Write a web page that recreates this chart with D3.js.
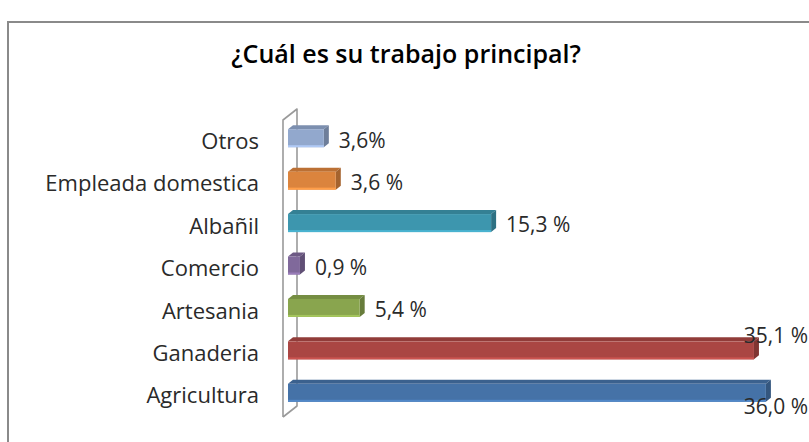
<!DOCTYPE html>
<html>
<head>
<meta charset="utf-8">
<script src="https://cdn.jsdelivr.net/npm/d3@7"></script>
<style>
  body { margin: 0; background: #fff; }
  svg { display: block; }
</style>
</head>
<body>
<div id="chart"></div>
<script>
const categories = ["Otros", "Empleada domestica", "Albañil", "Comercio", "Artesania", "Ganaderia", "Agricultura"];
const values = [2.7, 3.6, 15.3, 0.9, 5.4, 35.1, 36.0];
const valueLabels = ["3,6%", "3,6 %", "15,3 %", "0,9 %", "5,4 %", "35,1 %", "36,0 %"];
const colors = ["#92A8CD", "#DB843D", "#3D96AE", "#80699B", "#89A54E", "#AA4643", "#4572A7"];

const width = 809, height = 442;
const font = "'Open Sans', Lato, sans-serif";

const svg = d3.select("#chart")
    .append("svg")
    .attr("width", width)
    .attr("height", height);

// chart frame (cut off at right and bottom)
svg.append("path")
    .attr("d", `M8,${height + 5} L8,22 L${width + 5},22`)
    .attr("fill", "none")
    .attr("stroke", "#8a8a8a")
    .attr("stroke-width", 2);

svg.append("text")
    .attr("x", 406)
    .attr("y", 63)
    .attr("text-anchor", "middle")
    .attr("font-family", font)
    .attr("font-weight", 600)
    .attr("font-size", 25)
    .attr("fill", "#000")
    .text("¿Cuál es su trabajo principal?");

const y = d3.scaleBand()
    .domain(categories)
    .range([120, 417]);

const x = d3.scaleLinear()
    .domain([0, 40])
    .range([288, 819]);

// 3D depth offsets
const wallDx = 14, wallDy = 11;
const barDx = 5, barDy = 4, barH = 18;

// side wall of the category axis
const wallTop = y.range()[0], wallBottom = y.range()[1], wallX = 283;
svg.append("path")
    .attr("d", `M${wallX},${wallBottom} L${wallX},${wallTop} L${wallX + wallDx},${wallTop - wallDy} L${wallX + wallDx},${wallBottom - wallDy} L${wallX},${wallBottom}`)
    .attr("fill", "none")
    .attr("stroke", "#9a9a9a")
    .attr("stroke-width", 1.6)
    .attr("stroke-linejoin", "round");

const data = categories.map((c, i) => ({ cat: c, v: values[i], label: valueLabels[i], color: colors[i] }));

const bars = svg.selectAll("g.bar")
    .data(data)
    .enter()
    .append("g")
    .attr("class", "bar");

const barTop = d => y(d.cat) + y.bandwidth() / 2 - 12;

// top face
bars.append("path")
    .attr("d", d => {
        const x0 = x(0), x1 = x(d.v), t = barTop(d);
        return `M${x0},${t} L${x1},${t} L${x1 + barDx},${t - barDy} L${x0 + barDx},${t - barDy} Z`;
    })
    .attr("fill", d => d3.color(d.color).darker(0.45));

// side face
bars.append("path")
    .attr("d", d => {
        const x1 = x(d.v), t = barTop(d);
        return `M${x1},${t} L${x1 + barDx},${t - barDy} L${x1 + barDx},${t - barDy + barH} L${x1},${t + barH} Z`;
    })
    .attr("fill", d => d3.color(d.color).darker(0.8));

// front face
bars.append("rect")
    .attr("x", x(0))
    .attr("y", d => barTop(d))
    .attr("width", d => x(d.v) - x(0))
    .attr("height", barH)
    .attr("fill", d => d.color);

bars.append("rect")
    .attr("x", x(0))
    .attr("y", d => barTop(d) + barH - 2)
    .attr("width", d => x(d.v) - x(0))
    .attr("height", 2)
    .attr("fill", d => d3.color(d.color).brighter(0.5));

// category labels
svg.selectAll("text.cat")
    .data(categories)
    .enter()
    .append("text")
    .attr("class", "cat")
    .attr("x", 259)
    .attr("y", d => y(d) + y.bandwidth() / 2)
    .attr("dy", "0.35em")
    .attr("text-anchor", "end")
    .attr("font-family", font)
    .attr("font-size", 22)
    .attr("fill", "#2a2a2a")
    .text(d => d);

// value labels, moved above/below the bar where they would run off the edge
svg.selectAll("text.val")
    .data(data)
    .enter()
    .append("text")
    .attr("class", "val")
    .attr("font-family", font)
    .attr("font-size", 21)
    .attr("fill", "#2a2a2a")
    .attr("dy", "0.35em")
    .text(d => d.label)
    .each(function (d, i) {
        const t = d3.select(this);
        const cy = y(d.cat) + y.bandwidth() / 2;
        const w = this.getComputedTextLength();
        const xs = x(d.v) + 15;
        if (xs + w > width) {
            const up = i === data.length - 2;
            t.attr("x", 808).attr("text-anchor", "end")
                .attr("y", up ? cy - 18 : cy + 11);
        } else {
            t.attr("x", xs).attr("y", cy - 1);
        }
    });
</script>
</body>
</html>
